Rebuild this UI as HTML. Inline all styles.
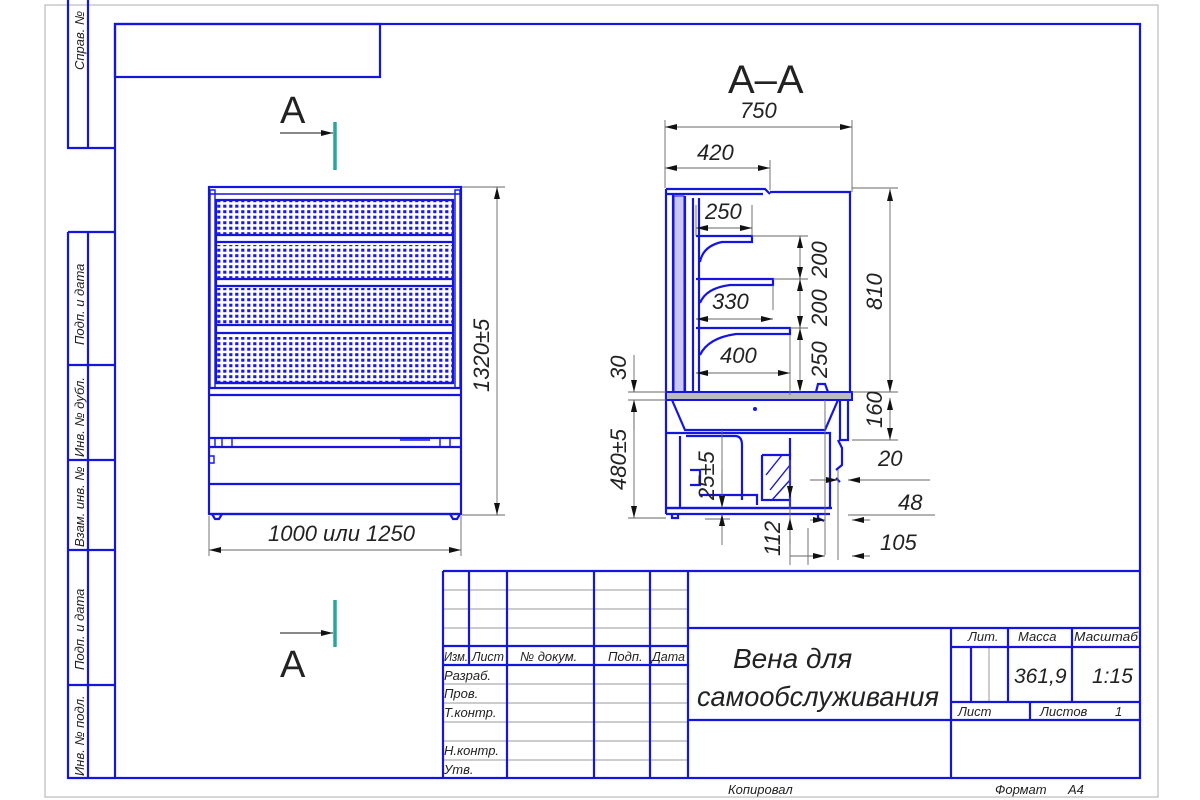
<!DOCTYPE html>
<html><head><meta charset="utf-8"><style>
html,body{margin:0;padding:0;background:#fff;width:1200px;height:800px;overflow:hidden}
svg{display:block}
text{font-family:"Liberation Sans",sans-serif;font-style:italic;fill:#222}
.b{stroke:#1515e0;fill:none;stroke-width:2.2}
.bt{stroke:#1515e0;fill:none;stroke-width:1.4}
.g{stroke:#666;fill:none;stroke-width:0.9}
.gl{stroke:#999;fill:none;stroke-width:1}
</style></head><body>
<svg width="1200" height="800" viewBox="0 0 1200 800" xmlns="http://www.w3.org/2000/svg">
<defs>
<marker id="ar" viewBox="0 0 12 6" refX="12" refY="3" markerWidth="12" markerHeight="6" orient="auto-start-reverse" markerUnits="userSpaceOnUse"><path d="M0,0 L12,3 L0,6z" fill="#111"/></marker>
<pattern id="dots" width="6" height="5.5" patternUnits="userSpaceOnUse"><rect x="1.2" y="1.2" width="3.2" height="3" fill="#1a1ae0"/></pattern>
</defs>
<rect x="45" y="5" width="1113" height="792" fill="none" stroke="#bbb" stroke-width="1.2"/>
<rect class="b" x="115" y="24" width="1025" height="754"/>
<rect class="b" x="115" y="24" width="265" height="53"/>
<path class="b" d="M68,0 V148 H115 M88,0 V148"/>
<path class="b" d="M68,232 H115 M68,232 V778 H115 M88,232 V778 M68,365 H115 M68,460 H115 M68,550 H115 M68,685 H115"/>
<g font-size="13">
<text transform="translate(84,70) rotate(-90)">Справ. №</text>
<text transform="translate(84,345) rotate(-90)">Подп. и дата</text>
<text transform="translate(84,457) rotate(-90)">Инв. № дубл.</text>
<text transform="translate(84,547) rotate(-90)">Взам. инв. №</text>
<text transform="translate(84,670) rotate(-90)">Подп. и дата</text>
<text transform="translate(84,776) rotate(-90)">Инв. № подл.</text>
</g>
<text x="280" y="123" font-size="38" style="font-style:normal">A</text>
<line x1="280" y1="133" x2="333" y2="133" stroke="#111" stroke-width="1" marker-end="url(#ar)"/>
<line x1="335" y1="122" x2="335" y2="170" stroke="#2aa59a" stroke-width="3.5"/>
<text x="280" y="677" font-size="38" style="font-style:normal">A</text>
<line x1="280" y1="633" x2="333" y2="633" stroke="#111" stroke-width="1" marker-end="url(#ar)"/>
<line x1="335" y1="600" x2="335" y2="647" stroke="#2aa59a" stroke-width="3.5"/>
<text x="728" y="93" font-size="40" style="font-style:normal">A–A</text>

<g>
<rect class="b" x="209" y="187" width="252" height="327"/>
<line class="bt" x1="209" y1="194" x2="461" y2="194"/>
<rect class="bt" x="210" y="190" width="5" height="198"/>
<rect class="bt" x="455" y="190" width="5" height="198"/>
<rect x="217" y="201" width="235" height="33" fill="url(#dots)"/>
<rect x="217" y="245" width="235" height="33" fill="url(#dots)"/>
<rect x="217" y="288" width="235" height="36" fill="url(#dots)"/>
<rect x="217" y="337" width="235" height="45" fill="url(#dots)"/>
<path class="b" d="M216,200 H453 V383 H216Z M216,235 H453 M216,242 H453 M216,279 H453 M216,286 H453 M216,325 H453 M216,333 H453"/>
<path class="b" d="M216,383 H453" stroke-width="3"/>
<path class="b" d="M209,388 H461 M209,395 H461 M209,438 H461 M209,447 H461 M209,484 H461 M209,514 H461"/>
<path class="bt" d="M215,438 V447 M222,438 V447 M232,438 V447 M400,440 H430 M440,438 V447 M450,438 V447 M210,456 H214 V463 H210"/>
<path class="b" d="M212,514 l3,5 h4 l3,-5 M450,514 l3,5 h4 l3,-5"/>
<path class="g" d="M462,187 H505 M462,515 H505 M209,516 V556 M461,516 V556"/>
<line class="g" x1="497" y1="187" x2="497" y2="515" marker-start="url(#ar)" marker-end="url(#ar)"/>
<line class="g" x1="209" y1="550" x2="461" y2="550" marker-start="url(#ar)" marker-end="url(#ar)"/>
<text transform="translate(489,392) rotate(-90)" font-size="22">1320±5</text>
<text x="268" y="541" font-size="22">1000 или 1250</text>
</g>

<g>
<path class="b" d="M666,189 H765 L770,194 M666,189 V514 M666,194 H763 M770,192 H850 V393 M673,194 V393 M685,196 V393"/>
<path class="b" d="M693,198 V393 M699,198 V393"/>
<rect x="674" y="196" width="10" height="196" fill="#c9c9f3" stroke="#1515e0" stroke-width="1"/>
<path class="b" d="M696,236 H752 V242 H722 Q703,246 700,262 M696,279 H773 V285 H730 Q706,288 700,303 M696,328 H790 V334 H736 Q708,338 700,355"/>
<rect x="666" y="392" width="186" height="8" fill="#bbb" stroke="#1515e0" stroke-width="2"/>
<path class="b" d="M816,392 l2,-8 h7 l3,8"/>
<path class="b" d="M672,400 L685,430 H825 L838,400 M840,400 V440 H848 V400"/>
<circle cx="755" cy="409" r="2" fill="#1515e0"/>
<path class="b" d="M666,433 H830 V508 H666 M680,436 V508 M686,436 H735 Q742,436 742,445 V500 M690,470 H700 V485 H690 M700,495 H757 V505 M790,438 V508 M762,455 H790 M762,455 V500 H790"/>
<path class="bt" d="M770,490 L790,465 M772,500 L790,480 M766,475 L782,455"/>
<path class="b" d="M666,508 H832 M666,514 H830 M672,514 v4 h6 v-4 M818,514 v4 l6,3 M838,440 L842,448 V465 L836,470 M836,478 L840,482"/>
<path class="g" d="M665,120 V188 M852,120 V192 M770,160 V190 M696,205 V236 M752,205 V236 M752,236 H808 M773,279 H808 M790,328 H808 M790,335 V395 M773,285 V310 M852,188 H898 M852,392 H898 M852,440 H898 M825,400 V555 M838,470 V560 M808,528 V565 M848,515 H935 M850,480 H930 M628,392 H666 M628,400 H666 M628,518 H666 M705,519 H730 M722,430 V500 M790,498 V565"/>
<line class="g" x1="665" y1="127" x2="852" y2="127" marker-start="url(#ar)" marker-end="url(#ar)"/>
<line class="g" x1="665" y1="168" x2="770" y2="168" marker-start="url(#ar)" marker-end="url(#ar)"/>
<line class="g" x1="696" y1="228" x2="752" y2="228" marker-start="url(#ar)" marker-end="url(#ar)"/>
<line class="g" x1="696" y1="319" x2="773" y2="319" marker-start="url(#ar)" marker-end="url(#ar)"/>
<line class="g" x1="696" y1="373" x2="790" y2="373" marker-start="url(#ar)" marker-end="url(#ar)"/>
<line class="g" x1="800" y1="236" x2="800" y2="279" marker-start="url(#ar)" marker-end="url(#ar)"/>
<line class="g" x1="800" y1="279" x2="800" y2="328" marker-start="url(#ar)" marker-end="url(#ar)"/>
<line class="g" x1="800" y1="328" x2="800" y2="392" marker-start="url(#ar)" marker-end="url(#ar)"/>
<line class="g" x1="890" y1="189" x2="890" y2="392" marker-start="url(#ar)" marker-end="url(#ar)"/>
<line class="g" x1="890" y1="398" x2="890" y2="440" marker-start="url(#ar)" marker-end="url(#ar)"/>
<line class="g" x1="634" y1="355" x2="634" y2="392" marker-end="url(#ar)"/>
<line class="g" x1="634" y1="430" x2="634" y2="400" marker-end="url(#ar)"/>
<line class="g" x1="634" y1="400" x2="634" y2="518" marker-start="url(#ar)" marker-end="url(#ar)"/>
<line class="g" x1="722" y1="470" x2="722" y2="508" marker-end="url(#ar)"/>
<line class="g" x1="722" y1="545" x2="722" y2="514" marker-end="url(#ar)"/>
<line class="g" x1="790" y1="460" x2="790" y2="498" marker-end="url(#ar)"/>
<line class="g" x1="790" y1="545" x2="790" y2="518" marker-end="url(#ar)"/>
<line class="g" x1="810" y1="480" x2="838" y2="480" marker-end="url(#ar)"/>
<line class="g" x1="870" y1="480" x2="848" y2="480" marker-end="url(#ar)"/>
<line class="g" x1="810" y1="520" x2="825" y2="520" marker-end="url(#ar)"/>
<line class="g" x1="870" y1="520" x2="852" y2="520" marker-end="url(#ar)"/>
<line class="g" x1="790" y1="556" x2="825" y2="556" marker-end="url(#ar)"/>
<line class="g" x1="870" y1="556" x2="852" y2="556" marker-end="url(#ar)"/>
<g font-size="22">
<text x="740" y="118">750</text>
<text x="697" y="160">420</text>
<text x="705" y="219">250</text>
<text x="712" y="309">330</text>
<text x="720" y="363">400</text>
<text transform="translate(827,278) rotate(-90)">200</text>
<text transform="translate(827,326) rotate(-90)">200</text>
<text transform="translate(827,378) rotate(-90)">250</text>
<text transform="translate(882,310) rotate(-90)">810</text>
<text transform="translate(882,428) rotate(-90)">160</text>
<text transform="translate(626,380) rotate(-90)">30</text>
<text transform="translate(626,490) rotate(-90)">480±5</text>
<text transform="translate(714,500) rotate(-90)">25±5</text>
<text transform="translate(780,556) rotate(-90)">112</text>
<text x="878" y="466">20</text>
<text x="898" y="510">48</text>
<text x="880" y="550">105</text>
</g>
</g>

<g>
<path class="gl" d="M443,590 H688 M443,609 H688 M443,628 H688 M443,684 H688 M443,703 H688 M443,722 H688 M443,741 H688 M443,760 H688 M989,647 V702"/>
<path class="b" d="M443,571 H1140 M443,571 V778 M469,571 V665 M507,571 V778 M594,571 V778 M650,571 V778 M688,571 V778 M443,646 H688 M443,665 H688 M688,628 H1140 M688,720 H1140 M951,628 V778 M951,647 H1140 M951,702 H1140 M1008,628 V702 M1072,628 V702 M1030,702 V720 M971,647 V702"/>
<g font-size="13">
<text x="444" y="661" textLength="24" lengthAdjust="spacingAndGlyphs">Изм.</text><text x="472" y="661" textLength="32" lengthAdjust="spacingAndGlyphs">Лист</text><text x="520" y="661">№ докум.</text><text x="608" y="661">Подп.</text><text x="652" y="661" textLength="33" lengthAdjust="spacingAndGlyphs">Дата</text>
<text x="444" y="680">Разраб.</text><text x="444" y="698">Пров.</text><text x="444" y="717">Т.контр.</text><text x="444" y="755">Н.контр.</text><text x="444" y="774">Утв.</text>
<text x="968" y="641">Лит.</text><text x="1018" y="641">Масса</text><text x="1074" y="641" textLength="64" lengthAdjust="spacingAndGlyphs">Масштаб</text>
<text x="958" y="716">Лист</text><text x="1040" y="716">Листов</text><text x="1115" y="716">1</text>
<text x="728" y="794">Копировал</text><text x="995" y="794">Формат</text><text x="1068" y="794">A4</text>
</g>
<text x="1014" y="683" font-size="21">361,9</text>
<text x="1092" y="683" font-size="21">1:15</text>
<text x="733" y="668" font-size="28">Вена для</text>
<text x="697" y="706" font-size="28" textLength="242" lengthAdjust="spacingAndGlyphs">самообслуживания</text>
</g>
</svg>
</body></html>
